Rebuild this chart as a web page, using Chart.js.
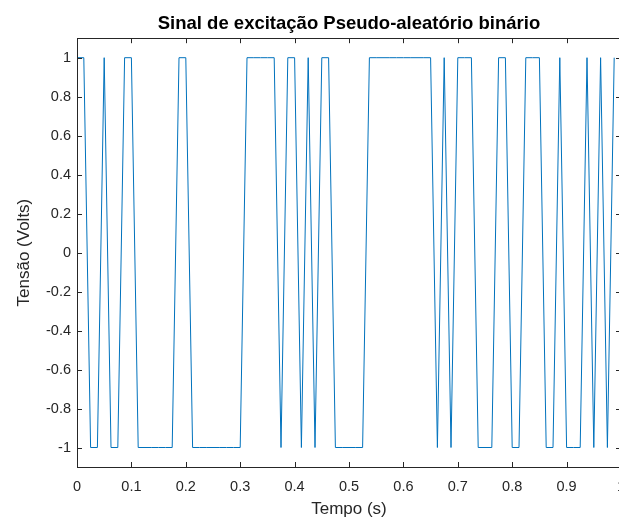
<!DOCTYPE html>
<html>
<head>
<meta charset="utf-8">
<script src="https://cdn.jsdelivr.net/npm/chart.js@4"></script>
<style>
  html, body { margin: 0; padding: 0; background: #fff; overflow: hidden; }
  #wrap { width: 630px; height: 525px; }
</style>
</head>
<body>
<div id="wrap"><canvas id="chart" width="630" height="525"></canvas></div>
<script>
const TITLE = 'Sinal de excitação Pseudo-aleatório binário';
const X_LABEL = 'Tempo (s)';
const Y_LABEL = 'Tensão (Volts)';

// sampling period of the PRBS (s)
const SAMPLE_TIME = 0.0125;

// signal level at each sample (V)
const signal = [
  1, 1, -1, -1, 1, -1, -1, 1, 1, -1,
  -1, -1, -1, -1, -1, 1, 1, -1, -1, -1,
  -1, -1, -1, -1, -1, 1, 1, 1, 1, 1,
  -1, 1, 1, -1, 1, -1, 1, 1, -1, -1,
  -1, -1, -1, 1, 1, 1, 1, 1, 1, 1,
  1, 1, 1, -1, 1, -1, 1, 1, 1, -1,
  -1, -1, 1, 1, -1, -1, 1, 1, 1, -1,
  -1, 1, -1, -1, -1, 1, -1, 1, -1, 1
];

const xTicks = [0, 0.1, 0.2, 0.3, 0.4, 0.5, 0.6, 0.7, 0.8, 0.9, 1];
const yTicks = [-1, -0.8, -0.6, -0.4, -0.2, 0, 0.2, 0.4, 0.6, 0.8, 1];
const xRange = [0, 1];
const yRange = [-1.1, 1.1];

const AXIS_COLOR = '#262626';
const LINE_COLOR = '#0072BD';
const FONT = "'Liberation Sans', Arial, Helvetica, sans-serif";

// MATLAB-style box with inward ticks on all four sides
const boxTicks = {
  id: 'boxTicks',
  afterDraw(chart) {
    const { ctx, chartArea: a, scales: { x, y } } = chart;
    const len = 5;
    const snap = v => Math.round(v) + 0.5;
    ctx.save();
    ctx.strokeStyle = AXIS_COLOR;
    ctx.lineWidth = 1;
    ctx.beginPath();
    x.ticks.forEach(t => {
      const px = snap(x.getPixelForValue(t.value));
      ctx.moveTo(px, a.bottom); ctx.lineTo(px, a.bottom - len);
      ctx.moveTo(px, a.top); ctx.lineTo(px, a.top + len);
    });
    y.ticks.forEach(t => {
      const py = snap(y.getPixelForValue(t.value));
      ctx.moveTo(a.left, py); ctx.lineTo(a.left + len, py);
      ctx.moveTo(a.right, py); ctx.lineTo(a.right - len, py);
    });
    ctx.stroke();
    ctx.strokeRect(snap(a.left), snap(a.top), Math.round(a.right - a.left), Math.round(a.bottom - a.top));
    ctx.restore();
  }
};

const points = signal.map((v, i) => ({ x: i * SAMPLE_TIME, y: v }));

new Chart(document.getElementById('chart'), {
  type: 'line',
  data: {
    datasets: [{
      data: points,
      borderColor: LINE_COLOR,
      borderWidth: 1,
      pointRadius: 0,
      tension: 0,
      fill: false
    }]
  },
  options: {
    responsive: false,
    animation: false,
    layout: { padding: { left: 0, right: 9, top: 0, bottom: 0 } },
    plugins: {
      legend: { display: false },
      tooltip: { enabled: false },
      title: {
        display: true,
        text: TITLE,
        fullSize: false,
        color: '#000',
        font: { family: FONT, size: 18.5, weight: 'bold' },
        padding: { top: 13, bottom: 3 }
      }
    },
    scales: {
      x: {
        type: 'linear',
        min: xRange[0],
        max: xRange[1],
        border: { display: false },
        grid: { display: false, drawTicks: false },
        afterBuildTicks(scale) { scale.ticks = xTicks.map(v => ({ value: v })); },
        ticks: {
          padding: 11,
          color: AXIS_COLOR,
          maxRotation: 0,
          autoSkip: false,
          font: { family: FONT, size: 14.5 },
          callback: v => String(v)
        },
        title: {
          display: true,
          text: X_LABEL,
          color: AXIS_COLOR,
          font: { family: FONT, size: 17 },
          padding: { top: 0, bottom: 5 }
        },
        afterFit(scale) {
          scale.height = 58;
          scale.paddingLeft = 0;
          scale.paddingRight = 0;
        }
      },
      y: {
        type: 'linear',
        min: yRange[0],
        max: yRange[1],
        border: { display: false },
        grid: { display: false, drawTicks: false },
        afterBuildTicks(scale) { scale.ticks = yTicks.map(v => ({ value: v })); },
        ticks: {
          padding: 6,
          color: AXIS_COLOR,
          autoSkip: false,
          font: { family: FONT, size: 14.5 },
          callback: v => String(v)
        },
        title: {
          display: true,
          text: Y_LABEL,
          color: AXIS_COLOR,
          font: { family: FONT, size: 17 },
          padding: { top: 14, bottom: 0 }
        },
        afterFit(scale) {
          scale.width = 77;
          scale.paddingTop = 0;
          scale.paddingBottom = 0;
        }
      }
    }
  },
  plugins: [boxTicks]
});
</script>
</body>
</html>
